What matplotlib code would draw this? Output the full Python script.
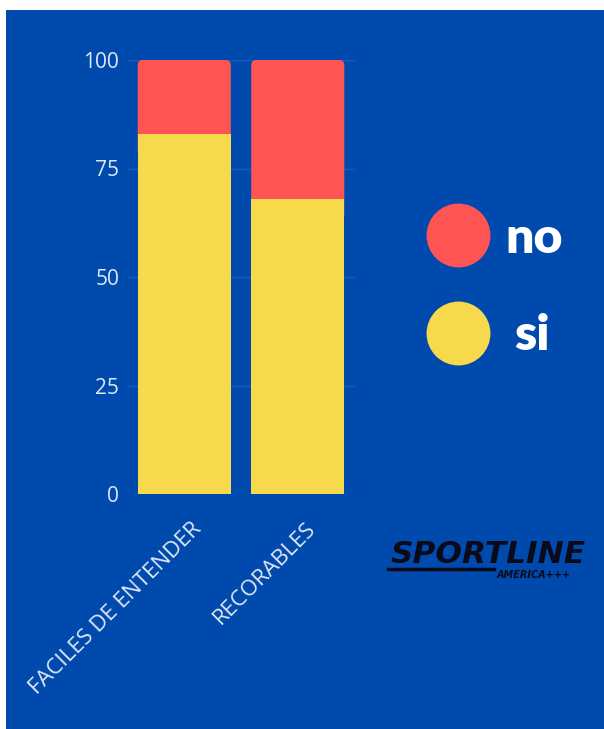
import matplotlib
matplotlib.use("Agg")
import matplotlib.pyplot as plt
from matplotlib.patches import FancyBboxPatch, Rectangle
from matplotlib.lines import Line2D
from matplotlib.transforms import ScaledTranslation

# datos
categorias = ["FACILES DE ENTENDER", "RECORABLES"]
si = [83, 68]
no = [17, 32]
ticks_y = [0, 25, 50, 75, 100]

azul = "#014aad"
rojo = "#fe5454"
amarillo = "#f7d94c"
texto_claro = "#dfe8f5"

fig = plt.figure(figsize=(6.04, 7.29), dpi=100)
fig.patch.set_facecolor("white")
# panel azul de fondo
fig.patches.append(Rectangle((6 / 604, 0), 1 - 6 / 604, 1 - 10 / 729,
                             transform=fig.transFigure, facecolor=azul,
                             edgecolor="none", zorder=-5))

ax = fig.add_axes([127.5 / 604, 235 / 729, 227 / 604, 434 / 729])
ax.set_facecolor("none")

x = list(range(len(categorias)))
ancho = 0.82
ax.bar(x, si, width=ancho, color=amarillo, zorder=3)
barras_no = ax.bar(x, no, bottom=si, width=ancho, color=rojo, zorder=2)

# esquinas redondeadas arriba en las barras rojas
for b in barras_no:
    bx, by, bw, bh = b.get_x(), b.get_y(), b.get_width(), b.get_height()
    b.set_visible(False)
    ax.add_patch(FancyBboxPatch((bx, by - 5), bw, bh + 5,
                                boxstyle="round,pad=0,rounding_size=0.045",
                                mutation_aspect=26, facecolor=rojo,
                                edgecolor="none", zorder=2))

ax.set_xlim(-0.5, 1.5)
ax.set_ylim(0, 100)
ax.set_yticks(ticks_y)
ax.set_xticks(x)
ax.set_xticklabels([])

# etiquetas del eje x giradas, un poco a la derecha del centro de la barra
desplazamiento = ScaledTranslation(7 / 100, -24 / 100, fig.dpi_scale_trans)
for xi, cat in zip(x, categorias):
    ax.text(xi, 0, cat, transform=ax.get_xaxis_transform() + desplazamiento,
            rotation=45, ha="right", va="top", rotation_mode="anchor",
            fontsize=16, family="Open Sans", color=texto_claro)

ax.tick_params(axis="both", length=0, colors=texto_claro)
ax.tick_params(axis="y", pad=6, labelsize=15)
for lab in ax.get_yticklabels():
    lab.set_fontfamily("Open Sans")
    lab.set_color(texto_claro)

ax.yaxis.grid(True, color="#1b5bb6", linewidth=1, zorder=0)
ax.set_axisbelow(True)
for s in ax.spines.values():
    s.set_visible(False)

# leyenda
handles = [Line2D([], [], marker="o", linestyle="none", markersize=46,
                  markerfacecolor=c, markeredgecolor="none") for c in (rojo, amarillo)]
leg = fig.legend(handles, ["no", "si"], loc="center left",
                 bbox_to_anchor=(425 / 604, 1 - 287 / 729), frameon=False,
                 labelspacing=1.05, handlelength=1.3, handletextpad=0.3,
                 borderpad=0, borderaxespad=0,
                 prop={"family": "Lato", "weight": "heavy", "size": 36})
for t in leg.get_texts():
    t.set_color("white")
# "si" va centrado bajo "no"
t_si = leg.get_texts()[1]
t_si.set_transform(t_si.get_transform() + ScaledTranslation(9 / 100, 0, fig.dpi_scale_trans))

# logo
fig.text(391 / 604, 1 - 563 / 729, "SPORTLINE", fontsize=22.5, fontweight="heavy",
         fontstyle="italic", family="DejaVu Sans", color="#0a0a1a", va="baseline")
fig.add_artist(Line2D([388 / 604, 494 / 604], [1 - 569 / 729, 1 - 569 / 729],
                      transform=fig.transFigure, color="#0a0a1a", linewidth=2.5))
fig.text(497 / 604, 1 - 578 / 729, "AMERICA+++", fontsize=7, fontweight="bold",
         fontstyle="italic", family="DejaVu Sans", color="#0a0a1a", va="baseline")

fig.savefig("out.png", dpi=100)
